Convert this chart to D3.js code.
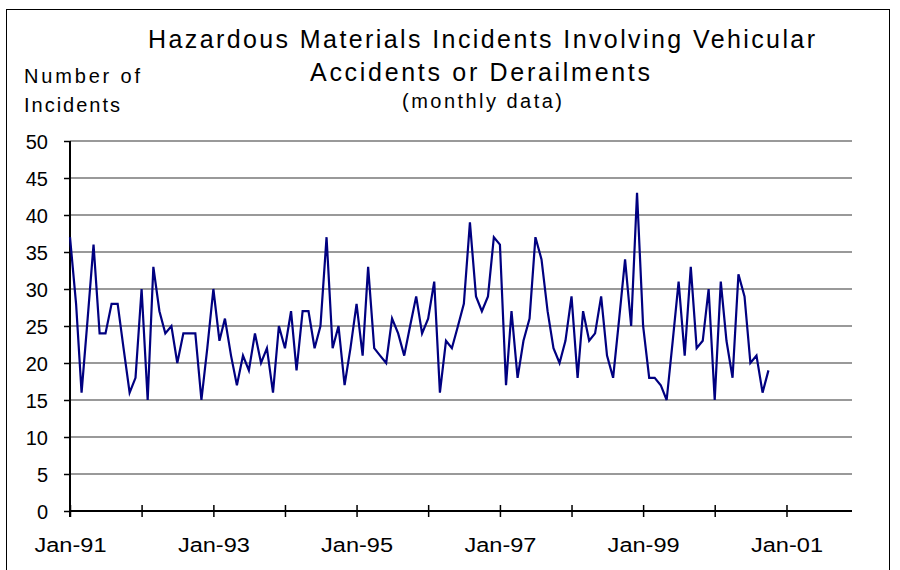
<!DOCTYPE html>
<html>
<head>
<meta charset="utf-8">
<script src="https://cdn.jsdelivr.net/npm/d3@7"></script>
<style>
  html, body { margin: 0; padding: 0; background: #fff; }
  svg { display: block; }
  text { font-family: "Liberation Sans", Arial, sans-serif; fill: #000; }
</style>
</head>
<body>
<script>
// ---- Data ----
const startMonth = "1991-01";
const incidents = [
  37, 28, 16, 26, 36, 24, 24, 28, 28, 22, 16, 18,   // 1991
  30, 15, 33, 27, 24, 25, 20, 24, 24, 24, 15, 22,   // 1992
  30, 23, 26, 21, 17, 21, 19, 24, 20, 22, 16, 25,   // 1993
  22, 27, 19, 27, 27, 22, 25, 37, 22, 25, 17, 22,   // 1994
  28, 21, 33, 22, 21, 20, 26, 24, 21, 25, 29, 24,   // 1995
  26, 31, 16, 23, 22, 25, 28, 39, 29, 27, 29, 37,   // 1996
  36, 17, 27, 18, 23, 26, 37, 34, 27, 22, 20, 23,   // 1997
  29, 18, 27, 23, 24, 29, 21, 18, 26, 34, 25, 43,   // 1998
  25, 18, 18, 17, 15, 23, 31, 21, 33, 22, 23, 30,   // 1999
  15, 31, 23, 18, 32, 29, 20, 21, 16, 19            // 2000
];
const yTicks = [0, 5, 10, 15, 20, 25, 30, 35, 40, 45, 50];
const xTickYears = [1991, 1992, 1993, 1994, 1995, 1996, 1997, 1998, 1999, 2000, 2001];
const xLabeledYears = [1991, 1993, 1995, 1997, 1999, 2001];
const titleLines = ["Hazardous Materials Incidents Involving Vehicular", "Accidents or Derailments"];
const subtitle = "(monthly data)";
const yTitle = ["Number of", "Incidents"];

// ---- Build ----
const W = 900, H = 570;
const svg = d3.select("body").append("svg").attr("width", W).attr("height", H);

// outer border
svg.append("rect").attr("x", 6.5).attr("y", 9.5).attr("width", 883).attr("height", 580)
  .attr("fill", "none").attr("stroke", "#000").attr("stroke-width", 1);

const parse = d3.timeParse("%Y-%m");
const start = parse(startMonth);
const data = incidents.map((v, i) => ({ date: d3.timeMonth.offset(start, i), value: v }));

const x = d3.scaleTime()
  .domain([new Date(1991, 0, 1), new Date(2001, 11, 1)])
  .range([70, 852]);
const y = d3.scaleLinear().domain([0, 50]).range([511, 141]);

// gridlines
svg.append("g").selectAll("line").data(yTicks.filter(d => d > 0)).join("line")
  .attr("x1", 70).attr("x2", 852)
  .attr("y1", d => y(d)).attr("y2", d => y(d))
  .attr("stroke", "#999").attr("stroke-width", 2);

// y axis
const yAxis = svg.append("g").attr("transform", "translate(70,0)")
  .call(d3.axisLeft(y).tickValues(yTicks).tickSize(6).tickFormat(d3.format("d")));
yAxis.select(".domain").attr("stroke", "#000").attr("stroke-width", 2).attr("d", `M0,${y(50)}V${y(0) + 6}`);
yAxis.selectAll(".tick line").attr("stroke", "#000").attr("stroke-width", 1.5);
yAxis.selectAll(".tick text").attr("font-size", 20).attr("font-family", "Liberation Sans, Arial, sans-serif")
  .attr("dy", "0.36em").attr("x", -22).attr("text-anchor", "end");

// x axis
const xAxis = svg.append("g").attr("transform", `translate(0,${y(0)})`)
  .call(d3.axisBottom(x)
    .tickValues(xTickYears.map(yr => new Date(yr, 0, 1)))
    .tickSize(6)
    .tickFormat(d => xLabeledYears.includes(d.getFullYear()) ? d3.timeFormat("%b-%y")(d) : ""));
xAxis.select(".domain").attr("stroke", "#000").attr("stroke-width", 2).attr("d", `M70,0H852`);
xAxis.selectAll(".tick line").attr("stroke", "#000").attr("stroke-width", 1.5).attr("y1", -6).attr("y2", 6);
xAxis.selectAll(".tick text")
  .attr("font-size", 20).attr("font-family", "Liberation Sans, Arial, sans-serif")
  .attr("y", 41).attr("dy", null);
xAxis.selectAll(".tick text").filter(function () { return this.textContent !== ""; })
  .attr("textLength", 72).attr("lengthAdjust", "spacingAndGlyphs");

// series line
const line = d3.line().x(d => x(d.date)).y(d => y(d.value));
svg.append("path").datum(data)
  .attr("d", line)
  .attr("fill", "none")
  .attr("stroke", "#000080")
  .attr("stroke-width", 2.2)
  .attr("stroke-linejoin", "miter");

// titles
svg.append("text").attr("x", 148).attr("y", 48).attr("font-size", 25)
  .attr("textLength", 667).attr("lengthAdjust", "spacing").text(titleLines[0]);
svg.append("text").attr("x", 310).attr("y", 81).attr("font-size", 25)
  .attr("textLength", 340).attr("lengthAdjust", "spacing").text(titleLines[1]);
svg.append("text").attr("x", 402).attr("y", 108).attr("font-size", 20)
  .attr("textLength", 160).attr("lengthAdjust", "spacing").text(subtitle);
svg.append("text").attr("x", 24).attr("y", 83).attr("font-size", 20)
  .attr("textLength", 116).attr("lengthAdjust", "spacing").text(yTitle[0]);
svg.append("text").attr("x", 24).attr("y", 112).attr("font-size", 20)
  .attr("textLength", 96).attr("lengthAdjust", "spacing").text(yTitle[1]);
</script>
</body>
</html>
